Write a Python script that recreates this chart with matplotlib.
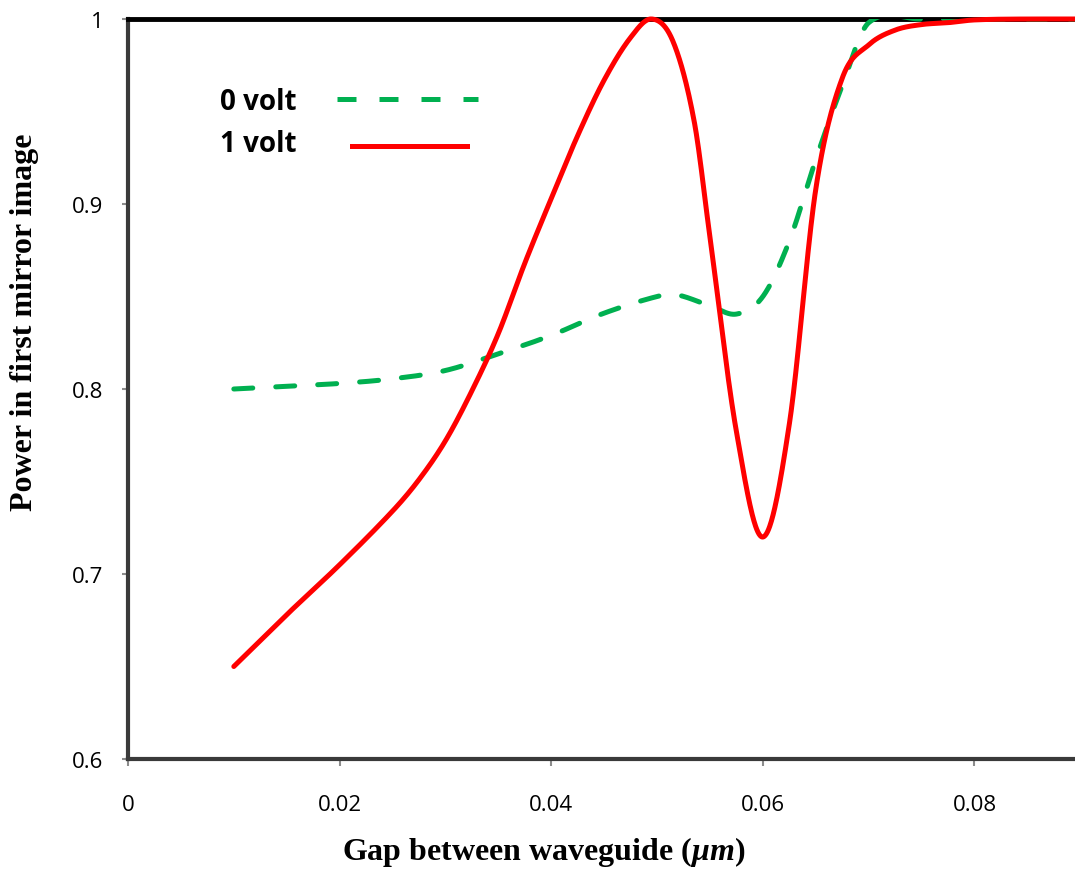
import numpy as np
import matplotlib.pyplot as plt
from matplotlib.lines import Line2D

plt.rcParams['mathtext.fontset'] = 'custom'
plt.rcParams['mathtext.it'] = 'Liberation Serif:italic:bold'
plt.rcParams['mathtext.rm'] = 'Liberation Serif:bold'

# 1 volt (red, solid)
gap_1v = [0.010, 0.015, 0.020, 0.025, 0.0275, 0.030,
          0.0325, 0.035, 0.0375, 0.040, 0.0425, 0.045, 0.0475, 0.0495, 0.0515,
          0.0535, 0.055, 0.0575, 0.060, 0.0625, 0.065, 0.0675, 0.070, 0.0725,
          0.075, 0.0775, 0.080, 0.085, 0.090]
power_1v = [0.650, 0.678, 0.705, 0.734, 0.751, 0.772,
            0.799, 0.830, 0.868, 0.903, 0.937, 0.967, 0.990, 1.000, 0.988,
            0.945, 0.882, 0.777, 0.720, 0.781, 0.908, 0.968, 0.986, 0.994,
            0.997, 0.998, 0.9995, 1.000, 1.000]

# 0 volt (green, dashed)
gap_0v = [0.010, 0.015, 0.020, 0.025, 0.030, 0.035, 0.040, 0.045, 0.050,
          0.0518, 0.055, 0.0575, 0.060, 0.0625, 0.065, 0.0675, 0.070, 0.075,
          0.080, 0.085, 0.090]
power_0v = [0.800, 0.8015, 0.803, 0.8055, 0.810, 0.819, 0.829, 0.841, 0.850,
            0.851, 0.845, 0.8405, 0.850, 0.880, 0.924, 0.964, 0.998, 1.000,
            1.000, 1.000, 1.000]

xticks = [0, 0.02, 0.04, 0.06, 0.08]
xticklabels = ['0', '0.02', '0.04', '0.06', '0.08']
yticks = [0.6, 0.7, 0.8, 0.9, 1.0]
yticklabels = ['0.6', '0.7', '0.8', '0.9', '1']


def smooth(x, y, xs):
    # cardinal (Catmull-Rom style) spline, like Excel's "smoothed line"
    x = np.asarray(x, float)
    y = np.asarray(y, float)
    n = len(x)
    h = np.diff(x)
    d = np.zeros(n)
    d[1:-1] = (y[2:] - y[:-2]) / (x[2:] - x[:-2])
    d[0] = (y[1] - y[0]) / h[0]
    d[-1] = (y[-1] - y[-2]) / h[-1]
    idx = np.clip(np.searchsorted(x, xs) - 1, 0, n - 2)
    t = (xs - x[idx]) / h[idx]
    h00 = 2 * t**3 - 3 * t**2 + 1
    h10 = t**3 - 2 * t**2 + t
    h01 = -2 * t**3 + 3 * t**2
    h11 = t**3 - t**2
    return (h00 * y[idx] + h10 * h[idx] * d[idx] + h01 * y[idx + 1]
            + h11 * h[idx] * d[idx + 1])


fig = plt.figure(figsize=(10.75, 8.7), dpi=100)
ax = fig.add_axes([128 / 1075, 110 / 870, (1075 - 128) / 1075, 740 / 870])

xs1 = np.linspace(gap_1v[0], gap_1v[-1], 1500)
xs0 = np.linspace(gap_0v[0], gap_0v[-1], 1500)
ax.plot(xs0, smooth(gap_0v, power_0v, xs0), color='#00B050', lw=3.6,
        dashes=(3.8, 4.6), dash_capstyle='round', zorder=3)
ax.plot(xs1, np.minimum(smooth(gap_1v, power_1v, xs1), 1.0), color='#FF0000',
        lw=3.6, solid_capstyle='round', zorder=4, clip_on=False)

ax.set_xlim(0, 0.0895)
ax.set_ylim(0.6, 1.0)
ax.set_xticks(xticks)
ax.set_xticklabels(xticklabels)
ax.set_yticks(yticks)
ax.set_yticklabels(yticklabels)

for lab in ax.get_xticklabels() + ax.get_yticklabels():
    lab.set_fontfamily('Open Sans')
    lab.set_fontsize(16)
ax.tick_params(axis='y', length=4.5, width=1.5, color='#8c8c8c', pad=13)
ax.tick_params(axis='x', length=5, width=1.5, color='#8c8c8c', pad=20)

ax.spines['right'].set_visible(False)
ax.spines['top'].set_color('black')
ax.spines['top'].set_linewidth(3.5)
for s in ['left', 'bottom']:
    ax.spines[s].set_color('#3a3a3a')
    ax.spines[s].set_linewidth(3)

# axis titles
fig.text(25 / 1075, 1 - 322 / 870, 'Power in first mirror image', rotation=90,
         ha='center', va='center', fontsize=23, fontweight='bold',
         family='Liberation Serif')
fig.text(544 / 1075, 1 - 852 / 870, r'Gap between waveguide ($\mu m$)',
         ha='center', va='center', fontsize=23, fontweight='bold',
         family='Liberation Serif')

# hand-made legend: label text left of the line sample
fig.text(297 / 1075, 1 - 103 / 870, '0 volt', ha='right', va='center',
         fontsize=20, fontweight='bold', family='Open Sans')
fig.text(297 / 1075, 1 - 145 / 870, '1 volt', ha='right', va='center',
         fontsize=20, fontweight='bold', family='Open Sans')
fig.add_artist(Line2D([337 / 1075, 478 / 1075], [1 - 100 / 870] * 2,
                      color='#00B050', lw=3.6, dashes=(3.8, 4.6),
                      dash_capstyle='butt', transform=fig.transFigure))
fig.add_artist(Line2D([352 / 1075, 467 / 1075], [1 - 147 / 870] * 2,
                      color='#FF0000', lw=3.6, transform=fig.transFigure))

fig.savefig('out.png', dpi=100)
